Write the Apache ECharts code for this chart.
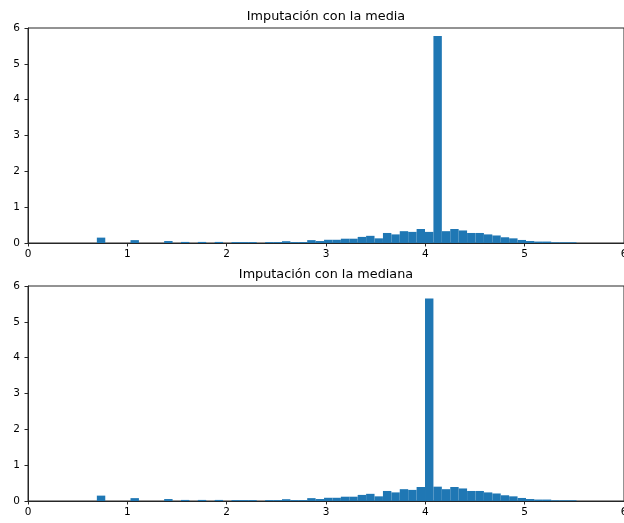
<!DOCTYPE html>
<html>
<head>
<meta charset="utf-8">
<script src="https://cdn.jsdelivr.net/npm/echarts@6/dist/echarts.min.js"></script>
<style>
  html, body { margin: 0; padding: 0; background: #ffffff; }
  #chart { width: 624px; height: 523px; }
</style>
</head>
<body>
<div id="chart"></div>
<script>
// Histogram binning (density histograms of the log-transformed variable)
const binLow = Math.log(2);
const binHigh = Math.log(250);
const binCount = 57;

// Axis ticks
const xTicks = [0, 1, 2, 3, 4, 5, 6];
const yTicks = [0, 1, 2, 3, 4, 5, 6];

// Panel titles
const panelTitles = ['Imputación con la media', 'Imputación con la mediana'];

// Density per bin, mean imputation
const mediaDensity = [
  0.15, 0, 0, 0, 0.08, 0, 0, 0, 0.055, 0,
  0.03, 0, 0.03, 0, 0.03, 0, 0.025, 0.025, 0.025, 0,
  0.025, 0.025, 0.05, 0.025, 0.025, 0.08, 0.055, 0.09, 0.09, 0.12,
  0.12, 0.17, 0.20, 0.13, 0.28, 0.24, 0.33, 0.31, 0.39, 0.31,
  5.78, 0.33, 0.39, 0.35, 0.28, 0.28, 0.24, 0.21, 0.16, 0.13,
  0.085, 0.055, 0.04, 0.04, 0.02, 0.02, 0.02
];

// Density per bin, median imputation
const medianaDensity = [
  0.15, 0, 0, 0, 0.08, 0, 0, 0, 0.055, 0,
  0.03, 0, 0.03, 0, 0.03, 0, 0.025, 0.025, 0.025, 0,
  0.025, 0.025, 0.05, 0.025, 0.025, 0.08, 0.055, 0.09, 0.09, 0.12,
  0.12, 0.17, 0.20, 0.13, 0.28, 0.24, 0.33, 0.31, 0.39, 5.65,
  0.40, 0.33, 0.39, 0.35, 0.28, 0.28, 0.24, 0.21, 0.16, 0.13,
  0.085, 0.055, 0.04, 0.04, 0.02, 0.02, 0.02
];

const binWidth = (binHigh - binLow) / binCount;
function toBins(density) {
  return density.map((d, i) => [binLow + i * binWidth, binLow + (i + 1) * binWidth, d]);
}

function renderBar(params, api) {
  const x0 = api.value(0), x1 = api.value(1), h = api.value(2);
  if (!h) return null;
  const topLeft = api.coord([x0, h]);
  const bottomRight = api.coord([x1, 0]);
  return {
    type: 'rect',
    shape: {
      x: topLeft[0],
      y: topLeft[1],
      width: bottomRight[0] - topLeft[0],
      height: bottomRight[1] - topLeft[1]
    },
    style: { fill: '#1f77b4' }
  };
}

const font = 'DejaVu Sans';
const spine = '#262626';

const panelTop = [28, 286];
const panelHeight = 215;
const panelLeft = 28;
const panelWidth = 596;

function makeXAxis(i) {
  return {
    gridIndex: i, type: 'value',
    min: xTicks[0], max: xTicks[xTicks.length - 1], interval: xTicks[1] - xTicks[0],
    axisLine: { show: true, onZero: false, lineStyle: { color: spine, width: 1 } },
    axisTick: { show: true, length: 3.5, lineStyle: { color: spine } },
    axisLabel: { show: true, color: '#000', fontFamily: font, fontSize: 10.5, margin: 6, showMaxLabel: true, showMinLabel: true },
    splitLine: { show: false }
  };
}
function makeYAxis(i) {
  return {
    gridIndex: i, type: 'value',
    min: yTicks[0], max: yTicks[yTicks.length - 1], interval: yTicks[1] - yTicks[0],
    axisLine: { show: true, lineStyle: { color: spine, width: 1 } },
    axisTick: { show: true, length: 3.5, lineStyle: { color: spine } },
    axisLabel: { show: true, color: '#000', fontFamily: font, fontSize: 10.5, margin: 8 },
    splitLine: { show: false }
  };
}

const chart = echarts.init(document.getElementById('chart'), null, { renderer: 'canvas' });
chart.setOption({
  animation: false,
  backgroundColor: '#ffffff',
  title: panelTitles.map((t, i) => ({
    text: t,
    left: panelLeft + 298,
    textAlign: 'center',
    top: panelTop[i] - 17.5,
    padding: 0,
    textStyle: { fontFamily: font, fontSize: 12.8, fontWeight: 'normal', color: '#000' }
  })),
  grid: panelTop.map(t => ({
    left: panelLeft, top: t, width: panelWidth, height: panelHeight,
    show: true, borderColor: spine, borderWidth: 1, backgroundColor: 'transparent',
    containLabel: false, outerBoundsMode: 'none'
  })),
  xAxis: [makeXAxis(0), makeXAxis(1)],
  yAxis: [makeYAxis(0), makeYAxis(1)],
  series: [
    { type: 'custom', xAxisIndex: 0, yAxisIndex: 0, renderItem: renderBar,
      encode: { x: [0, 1], y: 2 }, data: toBins(mediaDensity), clip: true },
    { type: 'custom', xAxisIndex: 1, yAxisIndex: 1, renderItem: renderBar,
      encode: { x: [0, 1], y: 2 }, data: toBins(medianaDensity), clip: true }
  ]
});
</script>
</body>
</html>
